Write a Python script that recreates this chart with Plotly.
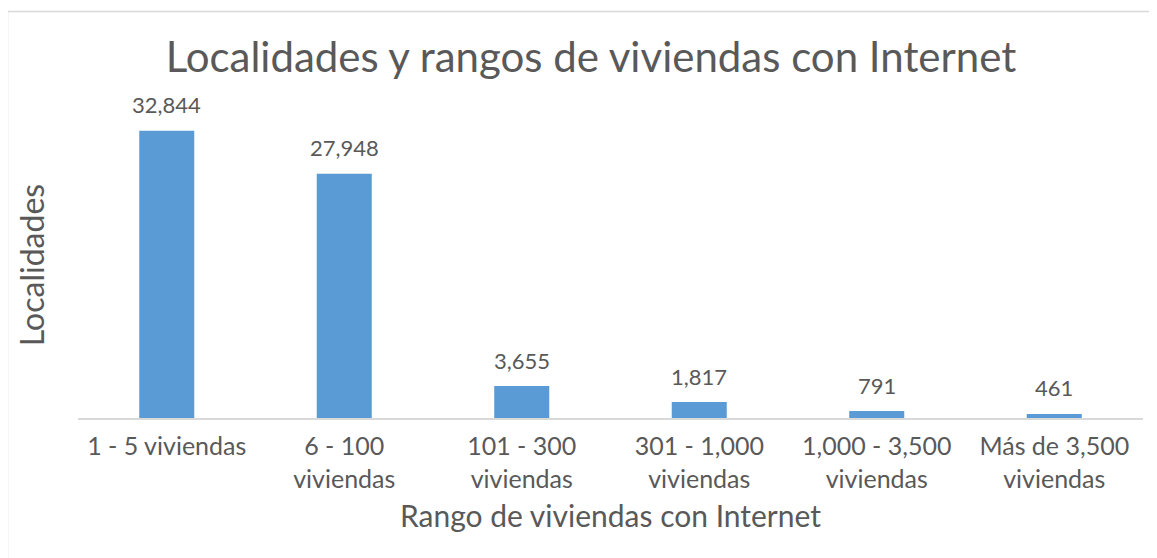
import plotly.graph_objects as go

categories = ["1 - 5 viviendas", "6 - 100<br>viviendas", "101 - 300<br>viviendas",
              "301 - 1,000<br>viviendas", "1,000 - 3,500<br>viviendas", "Más de 3,500<br>viviendas"]
values = [32844, 27948, 3655, 1817, 791, 461]
value_labels = ["32,844", "27,948", "3,655", "1,817", "791", "461"]

FONT = "Century Gothic, Lato, sans-serif"
GRAY = "#595959"
OFF = 8  # page body offset

fig = go.Figure(go.Bar(
    x=categories, y=values,
    marker=dict(color="#5B9BD5", line=dict(width=0)),
    cliponaxis=False,
))

for c, v, t in zip(categories, values, value_labels):
    fig.add_annotation(x=c, y=v, text=t, showarrow=False, yanchor="middle",
                       yshift=26, font=dict(family=FONT, size=22, color=GRAY))

L, R, T, B = 78 - OFF, 1143 - OFF, 112 - OFF, 418 - OFF
W, H = 1157, 558
fig.update_layout(
    width=W, height=H,
    margin=dict(l=L, r=W - R, t=T, b=H - B, autoexpand=False),
    paper_bgcolor="white", plot_bgcolor="white",
    bargap=0.69,
    showlegend=False,
    title=dict(text="Localidades y rangos de viviendas con Internet",
               font=dict(family=FONT, size=42, color=GRAY),
               x=(591 - OFF) / W, xanchor="center", y=1 - (57 - OFF) / H, yanchor="middle"),
    xaxis=dict(showline=True, linecolor="#D9D9D9", linewidth=2, ticks="",
               automargin=False,
               tickfont=dict(family=FONT, size=25, color=GRAY),
               ticklabelstandoff=5,
               title=dict(text="Rango de viviendas con Internet",
                          font=dict(family=FONT, size=30, color=GRAY), standoff=14)),
    yaxis=dict(range=[0, 35000], showticklabels=False, showgrid=False, zeroline=False,
               ticks="", automargin=False,
               title=dict(text="Localidades", font=dict(family=FONT, size=32, color=GRAY),
                          standoff=22)),
    shapes=[dict(type="rect", xref="paper", yref="paper",
                 x0=(7.5 - 78) / (R - L), x1=1.3, y0=-0.8, y1=(418 - 11.5) / (B - T),
                 line=dict(color="#D9D9D9", width=1.5), layer="below")],
)

fig.write_html("out.html")
